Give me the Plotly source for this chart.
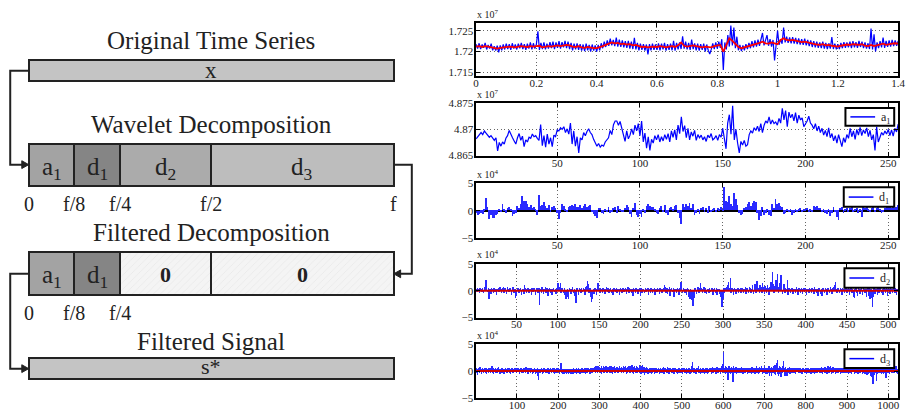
import plotly.graph_objects as go

# ---------------------------------------------------------------- data
# raw price series (units of 1e7), sampled every 0.005 on the time axis
RAW_STEP = 0.005
raw_signal = [
    1.7218, 1.7207, 1.7220, 1.7206, 1.7217, 1.7209, 1.7221, 1.7205, 1.7216, 1.7207, 1.7219, 1.7203, 1.7213, 1.7202, 1.7214, 1.7198, 1.7215, 1.7203, 1.7217, 1.7205,
    1.7219, 1.7206, 1.7218, 1.7204, 1.7220, 1.7207, 1.7217, 1.7205, 1.7219, 1.7208, 1.7221, 1.7206, 1.7218, 1.7204, 1.7219, 1.7207, 1.7222, 1.7205, 1.7220, 1.7207,
    1.7218, 1.7249, 1.7204, 1.7221, 1.7206, 1.7222, 1.7205, 1.7219, 1.7207, 1.7223, 1.7208, 1.7224, 1.7206, 1.7222, 1.7209, 1.7225, 1.7207, 1.7223, 1.7210, 1.7226,
    1.7208, 1.7224, 1.7206, 1.7221, 1.7203, 1.7219, 1.7205, 1.7220, 1.7204, 1.7218, 1.7202, 1.7217, 1.7201, 1.7219, 1.7203, 1.7216, 1.7200, 1.7217, 1.7202, 1.7215,
    1.7200, 1.7216, 1.7203, 1.7220, 1.7208, 1.7224, 1.7211, 1.7227, 1.7214, 1.7231, 1.7215, 1.7228, 1.7213, 1.7234, 1.7212, 1.7229, 1.7211, 1.7227, 1.7210, 1.7225,
    1.7209, 1.7226, 1.7207, 1.7224, 1.7206, 1.7233, 1.7205, 1.7221, 1.7203, 1.7219, 1.7204, 1.7218, 1.7202, 1.7217, 1.7193, 1.7218, 1.7203, 1.7219, 1.7204, 1.7217,
    1.7204, 1.7220, 1.7203, 1.7219, 1.7205, 1.7221, 1.7202, 1.7218, 1.7204, 1.7219, 1.7203, 1.7226, 1.7202, 1.7221, 1.7205, 1.7222, 1.7206, 1.7237, 1.7207, 1.7224,
    1.7205, 1.7221, 1.7204, 1.7229, 1.7206, 1.7220, 1.7203, 1.7219, 1.7202, 1.7218, 1.7204, 1.7219, 1.7200, 1.7217, 1.7203, 1.7194, 1.7205, 1.7220, 1.7206, 1.7222,
    1.7207, 1.7224, 1.7209, 1.7230, 1.7155, 1.7222, 1.7205, 1.7240, 1.7212, 1.7263, 1.7215, 1.7258, 1.7208, 1.7236, 1.7203, 1.7216, 1.7201, 1.7215, 1.7203, 1.7218,
    1.7206, 1.7221, 1.7208, 1.7225, 1.7210, 1.7227, 1.7212, 1.7229, 1.7214, 1.7232, 1.7245, 1.7215, 1.7231, 1.7240, 1.7214, 1.7230, 1.7212, 1.7228, 1.7178, 1.7226,
    1.7251, 1.7216, 1.7230, 1.7219, 1.7258, 1.7222, 1.7236, 1.7221, 1.7234, 1.7220, 1.7235, 1.7219, 1.7233, 1.7218, 1.7232, 1.7217, 1.7230, 1.7216, 1.7231, 1.7215,
    1.7228, 1.7213, 1.7227, 1.7211, 1.7225, 1.7210, 1.7224, 1.7209, 1.7222, 1.7208, 1.7224, 1.7207, 1.7221, 1.7206, 1.7220, 1.7207, 1.7235, 1.7206, 1.7219, 1.7205,
    1.7218, 1.7206, 1.7221, 1.7208, 1.7223, 1.7209, 1.7222, 1.7210, 1.7224, 1.7208, 1.7225, 1.7210, 1.7223, 1.7209, 1.7226, 1.7211, 1.7224, 1.7208, 1.7222, 1.7207,
    1.7220, 1.7206, 1.7256, 1.7205, 1.7242, 1.7200, 1.7222, 1.7208, 1.7225, 1.7210, 1.7234, 1.7209, 1.7226, 1.7211, 1.7227, 1.7212, 1.7228, 1.7213, 1.7227, 1.7214, 1.7226,
]

# filtered reconstruction s* (units of 1e7), sampled every 0.01
SMOOTH_STEP = 0.01
filtered_signal = [
    1.7212, 1.7213, 1.7211, 1.7213, 1.7212, 1.7210, 1.7208, 1.7207, 1.7209, 1.7210,
    1.7211, 1.7212, 1.7211, 1.7210, 1.7212, 1.7213, 1.7212, 1.7211, 1.7213, 1.7212,
    1.7213, 1.7214, 1.7210, 1.7211, 1.7213, 1.7212, 1.7214, 1.7215, 1.7213, 1.7215,
    1.7216, 1.7215, 1.7212, 1.7211, 1.7213, 1.7210, 1.7209, 1.7211, 1.7209, 1.7208,
    1.7208, 1.7210, 1.7213, 1.7216, 1.7219, 1.7222, 1.7220, 1.7221, 1.7218, 1.7219,
    1.7217, 1.7218, 1.7215, 1.7216, 1.7213, 1.7211, 1.7212, 1.7210, 1.7211, 1.7212,
    1.7211, 1.7213, 1.7212, 1.7210, 1.7212, 1.7213, 1.7211, 1.7215, 1.7222, 1.7214,
    1.7212, 1.7213, 1.7215, 1.7213, 1.7211, 1.7210, 1.7212, 1.7211, 1.7210, 1.7213,
    1.7214, 1.7216, 1.7200, 1.7218, 1.7232, 1.7226, 1.7218, 1.7211, 1.7208, 1.7210,
    1.7213, 1.7214, 1.7217, 1.7219, 1.7221, 1.7224, 1.7220, 1.7219, 1.7222, 1.7220,
    1.7218, 1.7228, 1.7232, 1.7228, 1.7227, 1.7228, 1.7226, 1.7225, 1.7223, 1.7224,
    1.7222, 1.7220, 1.7218, 1.7217, 1.7216, 1.7218, 1.7215, 1.7216, 1.7214, 1.7213,
    1.7212, 1.7214, 1.7216, 1.7217, 1.7216, 1.7218, 1.7217, 1.7216, 1.7218, 1.7214,
    1.7213, 1.7216, 1.7213, 1.7215, 1.7218, 1.7219, 1.7216, 1.7218, 1.7219, 1.7220,
    1.7219,
]

# approximation coefficients a1 (units of 1e7)
a1 = [
    4.8682, 4.8686, 4.8690, 4.8694, 4.8690, 4.8697, 4.8693, 4.8689, 4.8685, 4.8688, 4.8683, 4.8679, 4.8684, 4.8659, 4.8675, 4.8668,
    4.8676, 4.8672, 4.8683, 4.8688, 4.8698, 4.8690, 4.8684, 4.8678, 4.8672, 4.8684, 4.8692, 4.8679, 4.8687, 4.8667, 4.8680, 4.8676,
    4.8685, 4.8683, 4.8691, 4.8686, 4.8688, 4.8683, 4.8679, 4.8709, 4.8669, 4.8688, 4.8666, 4.8691, 4.8672, 4.8684, 4.8667, 4.8689,
    4.8686, 4.8699, 4.8697, 4.8703, 4.8700, 4.8705, 4.8694, 4.8701, 4.8691, 4.8712, 4.8672, 4.8697, 4.8668, 4.8686, 4.8655, 4.8684,
    4.8680, 4.8694, 4.8688, 4.8696, 4.8701, 4.8694, 4.8690, 4.8681, 4.8675, 4.8668, 4.8673, 4.8666, 4.8670, 4.8668, 4.8676, 4.8680,
    4.8684, 4.8698, 4.8690, 4.8709, 4.8716, 4.8716, 4.8708, 4.8715, 4.8703, 4.8691, 4.8677, 4.8697, 4.8682, 4.8689, 4.8701, 4.8690,
    4.8708, 4.8697, 4.8711, 4.8688, 4.8716, 4.8676, 4.8693, 4.8664, 4.8686, 4.8660, 4.8681, 4.8674, 4.8688, 4.8680, 4.8690, 4.8676,
    4.8686, 4.8678, 4.8690, 4.8681, 4.8692, 4.8676, 4.8697, 4.8685, 4.8699, 4.8680, 4.8708, 4.8692, 4.8724, 4.8696, 4.8707, 4.8684,
    4.8702, 4.8680, 4.8695, 4.8687, 4.8698, 4.8679, 4.8690, 4.8684, 4.8689, 4.8680, 4.8686, 4.8677, 4.8689, 4.8684, 4.8692, 4.8680,
    4.8683, 4.8688, 4.8679, 4.8690, 4.8685, 4.8702, 4.8679, 4.8663, 4.8712, 4.8728, 4.8691, 4.8745, 4.8680, 4.8700, 4.8674, 4.8655,
    4.8677, 4.8670, 4.8679, 4.8668, 4.8671, 4.8690, 4.8697, 4.8693, 4.8703, 4.8698, 4.8706, 4.8696, 4.8711, 4.8694, 4.8708, 4.8716,
    4.8712, 4.8724, 4.8710, 4.8718, 4.8711, 4.8714, 4.8708, 4.8721, 4.8712, 4.8740, 4.8718, 4.8736, 4.8705, 4.8733, 4.8722, 4.8729,
    4.8716, 4.8732, 4.8712, 4.8727, 4.8718, 4.8722, 4.8705, 4.8710, 4.8716, 4.8725, 4.8712, 4.8708, 4.8701, 4.8711, 4.8697, 4.8706,
    4.8694, 4.8702, 4.8689, 4.8698, 4.8686, 4.8703, 4.8684, 4.8692, 4.8678, 4.8688, 4.8674, 4.8690, 4.8679, 4.8667, 4.8684, 4.8675,
    4.8690, 4.8683, 4.8702, 4.8686, 4.8697, 4.8681, 4.8700, 4.8689, 4.8704, 4.8688, 4.8699, 4.8692, 4.8703, 4.8686, 4.8698, 4.8680,
    4.8690, 4.8660, 4.8705, 4.8676, 4.8685, 4.8694, 4.8689, 4.8697, 4.8691, 4.8700, 4.8688, 4.8699, 4.8687, 4.8702, 4.8695, 4.8710,
]

# detail coefficients (units of 1e4)
d1 = [
    -0.5, -0.9, -0.7, -0.4, -0.6, 0.3, 2.3, 0.6, -1.5, -0.8, -1.4, -1.3, -0.9, -0.7, 0.3, -0.2,
    1.1, 0.2, -0.5, 0.4, 0.6, 0.3, -1.0, -0.6, -0.4, 0.8, 0.5, 1.2, 2.6, 1.8, 1.8, 1.2,
    0.6, 1.0, 0.4, 0.6, 0.2, -0.8, 2.8, 0.8, 1.0, 1.5, 0.8, 0.5, 1.0, -0.3, 0.7, 0.9,
    0.4, -0.5, -1.6, -0.4, 1.1, 0.9, 0.3, -0.2, 0.6, 0.9, 1.0, 0.8, 1.1, 0.6, 0.7, 1.0,
    0.4, 0.8, 1.1, 0.6, 0.9, 1.0, -0.3, -0.7, -1.0, -1.4, 0.4, 0.5, -0.4, -0.6, 0.3, -0.2,
    0.7, -0.5, -0.3, 0.4, 0.6, -0.4, 0.8, 0.3, -0.3, -0.2, 0.5, 1.0, 0.7, -0.6, -1.1, 0.4,
    1.3, -0.8, -1.2, -0.6, -1.1, 0.3, -0.5, 0.9, 1.1, 0.8, 0.6, 0.7, 0.3, -0.4, -0.6, 0.5,
    0.9, -0.3, 1.0, -0.4, -0.9, 0.4, 0.6, 0.3, 0.8, 1.0, -0.5, -1.3, -2.4, 1.2, 0.6, 1.1,
    0.9, 1.3, 0.5, 1.2, -0.8, -0.5, 0.3, -0.6, 0.4, 0.7, -0.3, 0.5, -0.4, 0.8, -0.2, 0.3,
    0.5, -0.3, 0.4, 0.3, 0.6, 0.2, 4.2, 1.8, 1.5, 2.6, 1.2, 0.8, 3.1, 2.0, 1.0, -0.5,
    -0.8, -0.6, 0.4, 0.7, 1.1, 1.5, 0.9, 1.4, 1.7, 1.6, -0.5, -1.8, -1.0, 0.6, -0.9, -0.4,
    0.3, -0.8, -1.0, 1.2, 0.5, 2.0, 1.1, 1.4, 0.9, 0.6, -0.6, -0.4, 0.3, -0.3, 0.2, -0.8,
    -0.5, 0.3, -0.3, 0.2, 0.4, -0.2, 0.3, 0.1, 0.5, -0.2, 0.3, -0.3, 0.9, 0.6, 0.8, 0.4,
    0.5, -0.2, 0.3, -0.4, -0.7, 0.2, -1.0, -0.5, 0.6, -0.3, -1.1, -1.8, 0.4, 0.6, -0.4, 0.3,
    0.5, -0.3, 0.4, 0.6, -0.2, 0.3, 0.5, -0.4, 0.3, -1.2, 0.6, 0.4, 0.8, 0.3, -0.3, 0.5,
    0.6, -0.3, 0.4, 0.7, 0.3, -0.5, -0.3, 0.4, 0.6, 0.8, 0.9, 0.5, 1.0, 0.4, 0.7, 1.0,
]

d2 = [
    0.4, -0.3, 0.5, 0.2, -0.4, 0.6, 0.3, -0.2, 0.5, -0.5, 0.3, 0.8, 2.0, 1.2, -0.3, 0.6, -1.5, 0.4, -0.6, 0.5, 0.3, -0.4, 0.6, -0.2, 0.4, -0.8, 0.3, 0.5, -0.3, 0.7, 0.2, -0.5,
    0.6, 0.8, -0.4, 0.5, 0.3, -0.6, 0.7, 0.4, -0.3, 0.6, 0.2, -0.7, 0.5, 0.8, -0.4, 0.3, -1.3, -1.0, 0.4, 0.6, -0.5, 0.3, 0.5, -0.8, 0.4, 0.2, -0.6, 1.0, 0.5, -0.4, 0.3, 0.6,
    -0.5, 0.4, 0.3, -0.7, 0.5, -0.3, 0.6, 0.4, -0.8, 0.3, 0.5, -0.4, 0.6, -2.6, 0.3, -0.5, 0.7, 0.4, -0.6, 0.3, 0.8, -0.4, 0.5, -1.0, 0.3, 0.6, -0.5, 0.4, -0.7, 0.3, 0.5, -0.3,
    0.4, -0.6, 0.5, 1.5, 1.3, 0.8, 1.4, -0.5, 0.6, 0.3, -0.4, 0.5, -0.8, -1.5, -1.2, 0.4, -1.6, 0.5, 0.3, -0.6, 0.4, 0.7, -0.5, 0.3, -1.0, -2.3, 0.5, 0.4, -0.7, 0.6, 0.3, -0.5,
    0.5, -0.3, 0.6, 0.4, -0.8, 0.7, 0.9, 1.9, 1.2, -0.5, 0.6, -1.2, -2.0, -1.5, 0.4, -0.6, 0.5, 0.3, -0.7, 0.8, 1.4, 0.4, -0.5, 0.6, 0.3, -0.4, 0.5, 0.2, -0.6, 0.4, 0.7, -0.3,
    0.5, -0.5, 0.3, 0.6, -0.4, 0.4, -0.7, 0.5, 0.3, -0.3, 0.6, -0.5, 0.4, 0.2, -0.8, 0.5, 0.3, -0.4, 0.6, -0.3, 0.4, 0.5, -0.6, 0.3, 0.7, -0.4, 0.5, 0.3, -0.5, 0.4, -0.9, 0.6,
    0.3, -0.4, 0.5, 0.4, -0.6, 0.3, 0.5, -1.0, 0.6, -0.4, 0.4, 0.3, -0.5, 0.6, -0.3, 0.4, 0.5, -0.7, 0.3, -0.4, 0.6, 0.4, -0.5, 0.3, 0.5, -0.8, 0.4, -0.3, 0.6, 0.3, -0.6, 0.5,
    0.4, -0.5, 0.3, 0.6, 1.0, 0.8, -0.4, 0.5, -0.6, 0.3, 0.7, -0.9, 0.4, 0.5, -0.3, 0.6, -1.1, 0.4, 0.3, -0.5, 0.6, 0.4, -0.8, 0.5, 1.7, 1.2, -0.4, 0.6, 0.3, -0.5, 0.4, -0.7,
    0.5, 0.3, -1.2, -1.6, 0.4, -1.8, -2.2, -2.8, -1.4, 0.5, 0.3, -0.6, 0.4, 0.7, -0.4, 0.5, 1.4, 0.6, -0.5, 0.3, 0.8, -0.4, 0.5, -0.6, 0.4, 0.3, -0.5, 0.6, -0.3, 0.4, 0.5, -0.7,
    0.3, 0.6, -0.4, 0.5, -0.8, 0.4, 0.3, -0.6, -1.2, -2.0, -3.0, -1.5, 0.6, -0.4, 0.5, 0.8, 0.4, 1.1, 1.7, 0.5, 2.3, -0.5, 0.6, 0.4, -0.7, 0.5, 0.3, -0.6, 0.4, 0.6, -0.5, 0.3,
    0.5, -0.4, 0.6, 0.3, -0.5, 0.4, 0.7, -0.6, 0.5, 0.3, -0.4, 0.8, 0.6, -0.5, 0.4, 1.0, -0.6, 0.5, 1.2, -0.4, 1.8, 1.3, 0.6, -0.5, 1.1, 0.8, -0.4, 1.4, 0.7, -0.6, 0.9, 0.5,
    -0.4, 1.0, 0.6, -0.7, 0.8, 1.6, 0.5, 3.6, 1.2, -0.5, 0.9, 2.0, 0.6, 3.2, -0.4, 0.8, 1.5, 3.0, 0.5, -0.6, 0.7, 1.2, -0.5, 0.6, 0.4, 2.0, -0.7, 0.5, 0.3, -0.4, 0.6, 0.5,
    -0.6, 0.4, 0.3, -0.5, 0.7, 0.4, -0.8, 0.5, 0.3, -0.4, 0.6, -0.6, 0.4, 0.5, -0.3, 0.6, -0.7, 0.4, 0.3, -0.5, 0.6, 0.4, -0.4, 0.5, 0.3, -0.6, 0.7, 0.4, -0.5, 0.3, -1.0, 0.5,
    0.4, -0.6, 0.3, -1.0, 0.5, 0.4, -0.5, 0.6, 0.3, -0.7, 0.5, 0.4, -0.4, 0.8, 0.3, -0.6, 0.5, 0.7, 1.0, 1.6, 0.4, -0.5, 0.6, 0.3, -0.4, 0.5, 0.4, -0.8, 0.6, 0.3, -0.5, 0.4,
    0.5, -0.4, 0.3, 0.6, -0.7, 0.4, 0.5, -0.5, 0.3, -1.2, -1.3, 0.4, 0.6, -0.4, -1.0, 0.5, 0.3, -0.6, 0.4, 0.5, -0.8, 0.6, 0.3, -0.5, 0.4, -1.1, 0.6, -0.9, 0.5, -1.6, 0.4, -1.4,
    -3.1, -1.2, 0.5, -0.6, 0.4, 0.3, -0.7, 0.5, -0.4, 0.6, 0.3, -0.5, 0.4, -0.8, 0.5, 0.3, -0.4, 0.6, -1.0, 0.4, 0.3, -0.6, 0.5, 0.4, -0.5, 0.3, 0.6, -0.4, 0.5, -0.7, 0.3, 0.4,
]

d3 = [
    0.3, -0.5, 0.6, -0.8, 0.4, 0.2, -0.3, 0.5, -0.4, 0.3, 0.7, -0.2, 0.4, -0.6, 0.3, 0.5, -0.3, 0.2, -0.5, 0.4, 0.6, -0.3, 0.3, -0.4, 0.5, 0.2, -0.6, 0.4, -0.2, 0.3, 0.5, -0.4,
    0.4, -0.3, 0.6, 0.2, -0.5, 0.3, -0.2, 0.8, -0.4, 0.3, 0.5, -0.6, 0.2, 0.4, -0.3, 0.6, -0.5, 0.3, 0.2, -0.4, 0.5, -0.3, 0.4, 0.7, -0.2, 0.3, -0.6, 0.4, 0.2, -0.3, 0.5, -0.4,
    0.3, 0.5, -0.4, 0.2, -0.7, 0.4, 0.3, -0.3, 0.6, -0.2, 0.4, -0.5, 0.3, 0.5, -0.3, 0.2, 0.6, -0.4, 0.3, -0.6, 0.4, 0.2, -0.3, 0.5, -0.4, 0.3, 0.4, -0.5, 0.2, 0.6, -0.3, 0.4,
    -0.2, 0.5, 0.3, -0.4, 0.6, 0.4, -0.3, 0.5, 0.2, -0.6, 0.4, 0.3, -0.2, 0.5, 0.6, -0.4, 0.3, 0.2, -0.5, 0.4, 0.6, -0.3, 0.5, 0.3, -0.4, 0.7, 0.2, -0.3, 0.5, 0.4, -0.6, 0.3,
    0.5, -0.2, 0.4, 0.6, -0.4, 0.3, 0.5, -0.3, 0.4, -0.7, 0.3, 0.2, -0.5, 0.4, 0.6, -0.3, 0.2, -0.6, 0.4, 0.3, -0.4, 0.5, -0.9, -1.2, -1.8, 0.4, -0.5, 0.3, 0.2, -0.4, 0.5, -0.3,
    0.4, -0.6, 0.3, 0.5, -0.4, 0.2, 0.6, -0.3, 0.4, -0.5, 0.3, 0.2, -0.4, 0.6, 0.4, -0.3, 0.5, -0.6, 0.3, 0.4, -0.2, 0.5, 0.3, -0.5, 0.4, 0.6, -0.3, 0.2, -0.4, 0.5, 0.3, -0.6,
    0.4, 0.3, -0.5, 0.2, 0.6, -0.4, 0.3, 0.5, -0.3, 0.4, -0.6, 0.3, 0.6, 1.0, 1.5, -0.5, 0.3, -0.4, 0.2, -0.6, 0.4, -0.5, 0.3, -0.7, 0.2, -0.4, 0.3, -0.6, 0.4, -0.5, -0.3, 0.2,
    -0.6, 0.3, -0.5, 0.4, -0.4, 0.2, -0.7, 0.3, -0.5, 0.4, -0.3, -0.6, 0.3, 0.5, -0.4, 0.2, -0.5, 0.4, 0.3, -0.6, 0.5, -0.3, 0.4, -0.5, 0.3, 0.6, -0.4, 0.2, -0.6, 0.4, 0.3, -0.5,
    0.5, -0.4, 0.3, 0.6, -0.3, 0.4, -0.5, 0.2, 0.5, -0.6, 0.4, 0.3, -0.4, 0.6, 0.2, -0.5, 0.4, 0.5, -0.3, 0.3, -0.7, 0.4, 0.6, -0.4, 0.3, 0.5, -0.5, 0.4, 0.2, -0.3, 0.6, 0.5,
    0.7, -0.4, 0.5, 0.9, -0.3, 0.6, 0.4, -0.5, 0.8, 0.5, -0.3, 0.6, 0.7, -0.4, 0.5, 0.3, -0.6, 0.8, 0.4, -0.3, 0.6, 0.9, -0.4, 0.5, 0.7, -0.3, 0.4, 0.8, -0.5, 0.6, 0.3, -0.4,
    0.7, 0.5, -0.3, 0.8, 0.4, -0.5, 0.6, 0.9, -0.4, 0.5, 0.3, -0.6, 0.7, 0.4, -0.3, 0.6, 0.8, -0.5, 0.4, 0.6, -0.3, 0.5, 0.7, -0.4, 0.3, 0.6, -0.5, 0.8, 0.4, -0.3, 0.5, 0.6,
    -0.4, 0.7, 0.5, -0.3, 0.6, 0.9, -0.5, 0.4, 0.7, -0.3, 0.5, 0.8, -0.6, 0.4, 0.6, -0.4, 0.7, 0.5, -0.3, 0.9, 0.6, -0.5, 0.4, 0.8, -0.3, 0.6, 1.0, -0.4, 0.5, 0.7, -0.6, 0.4,
    0.8, -0.3, 0.6, 0.5, -0.5, 0.9, 0.4, -0.4, 0.7, 0.6, -0.3, 0.5, 1.0, -0.5, 0.4, 0.8, -0.6, 0.5, 0.9, -0.4, 1.0, 0.6, -0.5, 0.7, 0.4, -0.8, 0.6, 0.5, -0.4, 0.3, 0.7, -0.3,
    0.5, -0.6, 0.4, 0.3, -0.5, 0.6, -0.4, 0.3, 0.5, -0.7, 0.4, 0.2, -0.5, 0.6, -0.3, 0.4, 0.3, -0.6, 0.5, 0.4, -0.4, 0.3, 0.6, -0.5, 0.4, 0.2, -0.3, 0.5, -0.6, 0.4, 0.3, -0.4,
    0.6, 0.4, -0.5, 0.3, 0.5, -0.4, 0.7, 0.3, -0.6, 0.4, 0.5, -0.3, 0.6, 0.4, -0.5, 0.3, 0.7, -0.4, 0.5, 0.3, -0.6, 0.4, 0.6, -0.3, 0.5, 0.4, -0.5, 0.3, 0.6, -0.4, 0.5, 0.3,
    -0.6, 0.4, 0.5, -0.3, 0.6, 0.3, -0.5, 0.4, 0.3, -0.6, 0.5, 0.4, -0.4, 0.3, 0.6, -0.5, 0.4, 0.3, -0.4, 0.5, -0.6, 0.3, 0.4, -0.3, 0.5, 0.6, -0.5, 0.4, 0.3, -0.4, 0.5, -0.6,
    0.4, 0.3, -0.5, 0.6, 0.4, -0.3, 0.5, -0.6, 0.3, 0.4, -0.4, 0.8, 1.2, 1.6, 0.5, -0.4, 0.3, 0.6, -0.5, 0.4, 0.3, -0.6, 0.5, 0.4, -0.3, 0.6, 0.4, 0.8, -0.5, 0.3, 0.4, -0.4,
    0.5, -0.6, 0.3, 0.4, -0.5, 0.6, 0.3, -0.4, 0.5, -0.7, 0.4, 0.3, -0.5, 0.6, -0.4, 0.3, 0.5, -0.6, 0.4, 0.3, -0.5, 0.4, 0.6, -0.3, 0.5, 0.4, -0.6, 0.3, 0.5, -0.4, 0.7, 0.4,
    -0.5, 0.6, 0.4, -0.3, 0.5, 0.3, -0.6, 0.4, 0.7, -0.4, 0.5, 0.3, -0.5, 0.6, 0.4, -0.3, 0.5, -0.6, 0.4, 0.8, 0.5, -0.4, 0.6, 1.2, 3.5, 0.6, -0.5, 0.4, 0.8, -0.6, 0.5, 0.7,
    -0.5, 0.4, 0.6, -1.7, 0.5, 0.8, -0.4, 0.6, 0.3, -0.6, 0.5, 0.7, -0.5, 0.4, 0.6, -2.1, 0.5, 0.8, -0.4, 0.6, 0.3, -0.5, 0.7, 0.4, -0.6, 0.5, 0.3, -0.4, 0.6, 0.5, -0.5, 0.4,
    0.6, -0.4, 0.3, 0.7, -0.5, 0.4, 0.5, -0.6, 0.3, 0.6, -0.4, 0.5, 0.3, -0.5, 0.6, 0.4, -0.3, 0.5, -0.6, 0.4, 0.3, -0.5, 0.6, 0.4, -0.4, 0.5, 0.3, -0.6, 0.4, 0.7, -0.5, 0.3,
    0.5, -0.4, 0.6, 0.4, -0.6, 0.5, 0.3, -0.5, 0.8, 0.4, -0.4, 0.6, 0.5, -0.6, 0.4, 0.7, -0.5, 0.6, 0.4, -0.3, 0.8, 0.5, -0.6, 0.4, 0.6, -0.4, 0.5, 0.9, -0.5, 0.4, 0.6, -0.6,
    0.5, 0.4, -0.7, 0.6, 0.3, -0.5, 0.8, 0.4, -0.9, 0.6, 0.5, -0.4, 0.7, -1.0, 0.5, 0.6, -0.5, 0.4, 0.8, -0.6, 0.5, 1.0, -0.8, 0.6, 1.4, 0.5, 2.0, -0.7, 0.6, 0.4, -1.0, 0.8,
    0.5, -0.6, 0.7, -1.1, 0.4, 0.6, -0.5, 0.8, 0.5, 1.2, 1.9, -0.8, 0.6, -1.0, 0.5, 0.7, -0.6, 0.4, -0.9, 0.5, 0.6, -0.5, 0.4, 0.7, -0.7, 0.5, 0.3, -0.6, 0.4, 0.5, -0.4, 0.6,
    0.4, -0.5, 0.3, 0.6, -0.4, 0.5, 0.3, -0.6, 0.4, 0.5, -0.3, 0.6, 0.4, -0.5, 0.3, 0.5, -0.4, 0.6, 0.3, -0.5, 0.4, 0.3, -0.6, 0.5, 0.4, -0.3, 0.6, 0.3, -0.5, 0.4, 0.5, -0.4,
    0.3, -0.6, 0.5, 0.4, -0.4, 0.3, 0.6, -0.5, 0.4, 0.3, -0.3, 0.5, -0.6, 0.4, 0.6, -0.4, 0.3, 0.5, -0.5, 0.4, 0.3, -0.6, 0.5, 0.4, -0.4, 0.6, 0.3, -0.5, 0.4, 0.5, -0.3, 0.6,
    0.4, -0.5, 0.6, 0.3, -0.4, 0.5, 0.7, -0.6, 0.4, 0.5, -0.3, 0.6, 0.4, -0.5, 0.7, 0.5, -0.4, 0.6, 0.3, -0.6, 0.5, 0.8, -0.4, 0.6, 0.5, -0.5, 0.7, 0.9, 0.4, -0.6, 0.5, 0.6,
    -0.4, 0.7, 0.5, -0.5, 0.6, 0.4, -0.3, 0.5, -0.6, 0.4, 0.6, -0.4, 0.3, 0.5, -0.5, 0.4, 0.6, -0.3, 0.5, 0.4, -0.6, 0.3, 0.5, -0.4, 0.6, 0.4, -0.5, 0.3, 0.5, -0.4, 0.6, 0.3,
    -0.5, 0.4, 0.6, -0.4, 0.3, 0.5, -0.6, 0.4, 0.3, -0.5, 0.6, 0.4, -0.4, 0.3, 0.5, -0.7, 0.4, 0.6, -0.3, 0.5, 0.4, -0.6, 0.3, 0.5, -0.5, 0.4, 0.6, -0.4, 0.3, 0.5, -0.6, 0.4,
    0.5, -0.4, 0.3, 0.6, -0.5, 0.4, 0.5, -0.3, 0.6, -0.6, 0.4, 0.3, -0.5, 0.5, 0.4, -0.7, 0.6, 0.3, -0.4, 0.5, -0.8, 0.4, 0.3, -0.6, 0.5, 0.4, -0.5, 0.3, -0.9, 0.6, -1.2, 0.4,
    -0.6, 0.5, -2.5, -1.4, 0.4, -0.8, 0.6, 0.3, -0.5, 0.4, -1.9, -0.7, 0.5, 0.3, -0.6, 0.4, 0.5, -0.5, 0.3, 0.6, -0.4, 0.4, -0.7, 0.5, 0.3, -0.5, 0.6, 0.4, -0.6, 0.3, 0.5, -0.4,
    0.4, -0.6, -1.3, 0.5, 0.3, -0.5, 0.6, 0.4, -0.4, 0.5, 0.3, -0.6, 0.4, 0.5, -0.3, 0.6, -0.5, 0.4, 0.3, -0.4, 0.6, 0.5, -0.5, 0.4, 0.3, 0.6, 0.8, -0.4, 0.5, 0.3, -0.6, 0.4,
]

# thresholded detail bands (all coefficients removed by the filter)
d2_filtered = [0.0] * len(d2)
d3_filtered = [0.0] * len(d3)

# frequency-band layout of the decomposition
BAND_EDGES = [0, 1 / 8, 1 / 4, 1 / 2, 1]
EDGE_LABELS = ["0", "f/8", "f/4", "f/2", "f"]
BAND_LABELS = ["a<sub>1</sub>", "d<sub>1</sub>", "d<sub>2</sub>", "d<sub>3</sub>"]
BAND_KEPT = [True, True, False, False]

# ---------------------------------------------------------------- style
W, H = 920, 420
SERIF = "Liberation Serif"
INK = "#222222"
BAND_COLORS = ["#a3a3a3", "#858585", "#ababab", "#bdbdbd"]
SIGNAL_GRAY = "#c4c4c4"
BLUE = "#0000ff"
BAR_BLUE = "#2a2aff"
RED = "#ff0000"
DARK_RED = "#d00000"


def px(x):
    return x / W


def py(y):
    return 1 - y / H


# diagram geometry (pixel units on the overlay axes)
BOX_L, BOX_R = 26, 395


def fx(frac):
    return BOX_L + frac * (BOX_R - BOX_L)


fig = go.Figure()
shapes = []
annotations = []

DIAG = dict(xaxis="x6", yaxis="y6", orientation="h", hoverinfo="skip", showlegend=False)
EDGE_LINE = dict(color=INK, width=2)

# x: original series
fig.add_trace(go.Bar(y=[66.5], base=[fx(0)], x=[fx(1) - fx(0)], width=[22],
                     marker=dict(color=SIGNAL_GRAY, line=EDGE_LINE), **DIAG))
# wavelet decomposition
starts = [fx(a) for a in BAND_EDGES[:-1]]
lengths = [fx(b) - fx(a) for a, b in zip(BAND_EDGES[:-1], BAND_EDGES[1:])]
fig.add_trace(go.Bar(y=[164] * 4, base=starts, x=lengths, width=[43] * 4,
                     marker=dict(color=BAND_COLORS, line=EDGE_LINE), **DIAG))
# filtered decomposition: kept bands solid, removed bands hatched
kept = [i for i, k in enumerate(BAND_KEPT) if k]
gone = [i for i, k in enumerate(BAND_KEPT) if not k]
fig.add_trace(go.Bar(y=[275.3] * len(kept), base=[starts[i] for i in kept],
                     x=[lengths[i] for i in kept], width=[44] * len(kept),
                     marker=dict(color=[BAND_COLORS[i] for i in kept], line=EDGE_LINE), **DIAG))
fig.add_trace(go.Bar(y=[275.3] * len(gone), base=[starts[i] for i in gone],
                     x=[lengths[i] for i in gone], width=[44] * len(gone),
                     marker=dict(color="#f4f4f4", line=EDGE_LINE,
                                 pattern=dict(shape="/", fgcolor="#d4d4d4", bgcolor="#f4f4f4",
                                              size=5, solidity=0.12)), **DIAG))
# s*: filtered signal
fig.add_trace(go.Bar(y=[372.8], base=[fx(0)], x=[fx(1) - fx(0)], width=[21.5],
                     marker=dict(color=SIGNAL_GRAY, line=EDGE_LINE), **DIAG))


def dtext(x, y, text, size, bold=False):
    annotations.append(dict(x=x, y=y, xref="x6", yref="y6", text=f"<b>{text}</b>" if bold else text,
                            showarrow=False, xanchor="center", yanchor="middle",
                            font=dict(family=SERIF, size=size, color=INK)))


mid_x = fx(0.5)
dtext(mid_x, 35, "Original Time Series", 25)
dtext(mid_x, 122, "Wavelet Decomposition", 25)
dtext(mid_x, 233, "Filtered Decomposition", 25)
dtext(mid_x, 345, "Filtered Signal", 25)
dtext(mid_x, 66, "x", 23)
dtext(mid_x, 371, "s*", 22)

for i, lab in enumerate(BAND_LABELS):
    cx = starts[i] + lengths[i] / 2
    dtext(cx, 167, lab, 25)
    if BAND_KEPT[i]:
        dtext(cx, 278, lab, 25)
    else:
        dtext(cx, 276, "0", 22, bold=True)

for frac, lab in zip(BAND_EDGES, EDGE_LABELS):
    dtext(fx(frac), 204, lab, 20)
for frac, lab in zip(BAND_EDGES[:3], EDGE_LABELS[:3]):
    dtext(fx(frac), 316, lab, 20)


# connectors with arrowheads
def connector(path, tip, direction):
    shapes.append(dict(type="path", path=path, xref="x6", yref="y6", line=dict(color=INK, width=2)))
    tx, ty = tip
    d = 7 if direction == "right" else -7
    shapes.append(dict(type="path", xref="x6", yref="y6",
                       path=f"M {tx - d},{ty - 4} L {tx},{ty} L {tx - d},{ty + 4} Z",
                       fillcolor=INK, line=dict(color=INK, width=1)))


connector(f"M {BOX_L},66.7 L 7.3,66.7 L 7.3,163.3 L {BOX_L - 6},163.3", (BOX_L, 163.3), "right")
connector(f"M {BOX_R},163.3 L 413.3,163.3 L 413.3,275.7 L {BOX_R + 6},275.7", (BOX_R, 275.7), "left")
connector(f"M {BOX_L},275.7 L 7.3,275.7 L 7.3,373.3 L {BOX_L - 6},373.3", (BOX_L, 373.3), "right")

# ---------------------------------------------------------------- time-series panels
PL, PR = 478.3, 905
panels = [(17.5, 71.7), (100, 154), (182.7, 239.3), (265.5, 320.7), (348.3, 403.3)]


def frame_axis(**kw):
    base = dict(showline=True, linecolor="black", linewidth=1.5, mirror="ticks",
                ticks="inside", ticklen=4, tickcolor="black", tickwidth=1,
                showgrid=True, gridcolor="#666666", griddash="1px,2.5px", gridwidth=1,
                zeroline=False, fixedrange=True,
                tickfont=dict(family=SERIF, size=11, color=INK))
    base.update(kw)
    return base


layout_axes = {}
for k, (top, bot) in enumerate(panels, start=1):
    sx = "" if k == 1 else str(k)
    layout_axes[f"xaxis{sx}"] = frame_axis(domain=[px(PL), px(PR)], anchor=f"y{sx}",
                                           ticklabelstandoff=-4)
    layout_axes[f"yaxis{sx}"] = frame_axis(domain=[py(bot), py(top)], anchor=f"x{sx}",
                                           ticklabelstandoff=-1)

# panel 1: raw vs filtered signal
t_raw = [i * RAW_STEP for i in range(len(raw_signal))]
t_smooth = [i * SMOOTH_STEP for i in range(len(filtered_signal))]
fig.add_trace(go.Scatter(x=t_raw, y=raw_signal, mode="lines", line=dict(color=BLUE, width=1.2),
                         xaxis="x", yaxis="y", showlegend=False))
fig.add_trace(go.Scatter(x=t_smooth, y=filtered_signal, mode="lines", line=dict(color=RED, width=1.8),
                         xaxis="x", yaxis="y", showlegend=False))
x1_ticks = [0, 0.2, 0.4, 0.6, 0.8, 1.0, 1.2, 1.4]
layout_axes["xaxis"].update(range=[0, 1.4], tickvals=x1_ticks,
                            ticktext=["0", "0.2", "0.4", "0.6", "0.8", "1", "1.2", "1.4"])
layout_axes["yaxis"].update(range=[1.71413, 1.72693], tickvals=[1.715, 1.72, 1.725],
                            ticktext=["1.715", "1.72", "1.725"])

# panel 2: approximation a1
n1 = list(range(1, len(a1) + 1))
fig.add_trace(go.Scatter(x=n1, y=a1, mode="lines", line=dict(color=BLUE, width=1.2),
                         xaxis="x2", yaxis="y2", showlegend=False))
layout_axes["xaxis2"].update(range=[1, 256], tickvals=[50, 100, 150, 200, 250])
layout_axes["yaxis2"].update(range=[4.865, 4.875], tickvals=[4.865, 4.87, 4.875],
                             ticktext=["4.865", "4.87", "4.875"])

# panels 3-5: detail coefficients
PM5 = dict(range=[-5, 5], tickvals=[-5, 0, 5], ticktext=["\u22125", "0", "5"])
fig.add_trace(go.Bar(x=n1, y=d1, width=0.5, marker=dict(color=BAR_BLUE, line=dict(width=0)),
                     xaxis="x3", yaxis="y3", showlegend=False))
layout_axes["xaxis3"].update(range=[1, 256], tickvals=[50, 100, 150, 200, 250])
layout_axes["yaxis3"].update(zeroline=True, zerolinecolor="black", zerolinewidth=1.5, **PM5)

n2 = list(range(1, len(d2) + 1))
fig.add_trace(go.Bar(x=n2, y=d2, width=0.6, marker=dict(color=BAR_BLUE, line=dict(width=0)),
                     xaxis="x4", yaxis="y4", showlegend=False))
fig.add_trace(go.Scatter(x=n2, y=d2_filtered, mode="lines", line=dict(color=DARK_RED, width=2),
                         xaxis="x4", yaxis="y4", showlegend=False))
layout_axes["xaxis4"].update(range=[1, 512], tickvals=list(range(50, 501, 50)))
layout_axes["yaxis4"].update(**PM5)

n3 = list(range(1, len(d3) + 1))
fig.add_trace(go.Bar(x=n3, y=d3, width=0.7, marker=dict(color=BAR_BLUE, line=dict(width=0)),
                     xaxis="x5", yaxis="y5", showlegend=False))
fig.add_trace(go.Scatter(x=n3, y=d3_filtered, mode="lines", line=dict(color=DARK_RED, width=2),
                         xaxis="x5", yaxis="y5", showlegend=False))
layout_axes["xaxis5"].update(range=[1, 1024], tickvals=list(range(100, 1001, 100)))
layout_axes["yaxis5"].update(**PM5)

# exponent labels above each panel
for (top, _), expo in zip(panels, ["7", "7", "4", "4", "4"]):
    annotations.append(dict(x=px(PL - 1), y=py(top - 1.5), xref="paper", yref="paper",
                            text=f"x 10<sup>{expo}</sup>", showarrow=False,
                            xanchor="left", yanchor="bottom",
                            font=dict(family=SERIF, size=10, color=INK)))

# legend boxes
legend_boxes = [
    ("a<sub>1</sub>", 851.7, 901, 105, 123.3),
    ("d<sub>1</sub>", 850, 901, 186.7, 206.7),
    ("d<sub>2</sub>", 850.7, 901, 270, 290),
    ("d<sub>3</sub>", 850.7, 901, 353.3, 372.7),
]
for label, x0, x1, y0, y1 in legend_boxes:
    shapes.append(dict(type="rect", xref="paper", yref="paper", x0=px(x0), x1=px(x1),
                       y0=py(y1), y1=py(y0), fillcolor="white", line=dict(color="black", width=2),
                       layer="above"))
    ym = (y0 + y1) / 2
    shapes.append(dict(type="line", xref="paper", yref="paper", x0=px(x0 + 5), x1=px(x0 + 30),
                       y0=py(ym), y1=py(ym), line=dict(color=BLUE, width=1.5), layer="above"))
    annotations.append(dict(x=px(x0 + 34), y=py(ym + 1), xref="paper", yref="paper", text=label,
                            showarrow=False, xanchor="left", yanchor="middle",
                            font=dict(family=SERIF, size=12, color=INK)))

fig.update_layout(
    width=W, height=H, margin=dict(l=0, r=0, t=0, b=0),
    paper_bgcolor="white", plot_bgcolor="white", showlegend=False,
    barmode="overlay", bargap=0,
    xaxis6=dict(domain=[0, 0.5], range=[0, 460], visible=False, fixedrange=True, anchor="y6"),
    yaxis6=dict(domain=[0, 1], range=[420, 0], visible=False, fixedrange=True, anchor="x6"),
    shapes=shapes, annotations=annotations,
    **layout_axes,
)

fig.write_html("out.html")
